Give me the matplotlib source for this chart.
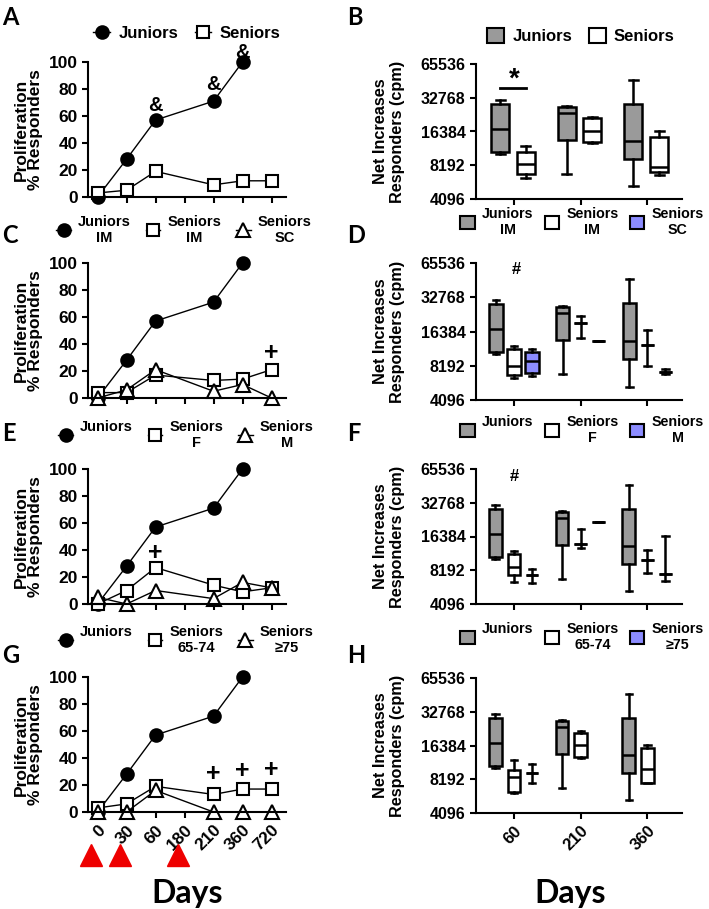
import matplotlib
matplotlib.use('Agg')
import matplotlib.pyplot as plt
from matplotlib.patches import Patch
from matplotlib.ticker import NullLocator

plt.rcParams['font.family'] = ['Liberation Sans', 'DejaVu Sans']
plt.rcParams['font.weight'] = 'bold'
plt.rcParams['axes.labelweight'] = 'bold'

# ---- data: proliferation (% responders) ----
days = ['0', '30', '60', '180', '210', '360', '720']
juniors_pct = [0, 28, 57, None, 71, 100, None]
seniors_pct = [3, 5, 19, None, 9, 12, 12]
seniors_im_pct = [4, 4, 17, None, 13, 14, 21]
seniors_sc_pct = [0, 6, 21, None, 5, 10, 0]
seniors_f_pct = [0, 10, 27, None, 14, 9, 12]
seniors_m_pct = [5, 0, 10, None, 4, 16, 12]
seniors_6574_pct = [3, 6, 19, None, 13, 17, 17]
seniors_75_pct = [0, 0, 16, None, 0, 0, 0]
vaccination_days = ['0', '30', '180']

# ---- data: net increases (cpm), per day: (whislo, q1, median, q3, whishi) ----
box_days = ['60', '210', '360']
juniors_cpm = [(10300, 10800, 17300, 28800, 31000),
               (6900, 13700, 23800, 27100, 27400),
               (5370, 9350, 13500, 29100, 47400)]
seniors_cpm = [(6260, 6900, 8450, 10700, 12200),
               (13000, 13200, 16700, 21600, 22200),
               (6660, 7100, 7900, 14700, 16600)]
seniors_im_cpm = [(6380, 6790, 8190, 11400, 12300),
                  (14300, 19300, 19300, 19300, 22200),
                  (8080, 12500, 12500, 12500, 16900)]
seniors_sc_cpm = [(6650, 7080, 9020, 10900, 11400),
                  (13400, 13400, 13400, 13400, 13400),
                  (6890, 7280, 7280, 7280, 7700)]
seniors_f_cpm = [(6430, 7380, 8840, 11500, 12200),
                 (13000, 14000, 14000, 14000, 19300),
                 (7800, 10200, 10200, 10200, 12300)]
seniors_m_cpm = [(6250, 7430, 7430, 7430, 8480),
                 (22100, 22100, 22100, 22100, 22100),
                 (6610, 7590, 7590, 7590, 16600)]
seniors_6574_cpm = [(6210, 6340, 8600, 9950, 12200),
                    (12800, 12900, 16600, 21300, 22100),
                    (7640, 7640, 10200, 15600, 16400)]
seniors_75_cpm = [(7640, 9410, 9410, 9410, 11200), None, None]
cpm_ticks = [4096, 8192, 16384, 32768, 65536]

GRAY = '#9a9a9a'
BLUE = '#8c8cff'

W, H = 709, 909
fig = plt.figure(figsize=(W / 100, H / 100), dpi=100)


def add_ax(x0, y0, x1, y1):
    return fig.add_axes([x0 / W, 1 - y1 / H, (x1 - x0) / W, (y1 - y0) / H])


def style(ax):
    for s in ['top', 'right']:
        ax.spines[s].set_visible(False)
    for s in ['left', 'bottom']:
        ax.spines[s].set_linewidth(1.5)
    ax.tick_params(direction='out', length=4, width=1.5)


def legend(ax, handles, labels, cx, cy, size, colsp=1.0):
    leg = ax.legend(handles, labels, loc='center', bbox_to_anchor=(cx / W, 1 - cy / H),
                    bbox_transform=fig.transFigure, ncol=len(handles), frameon=False,
                    handlelength=1.0, handleheight=1.0, handletextpad=0.5,
                    columnspacing=colsp, borderpad=0, borderaxespad=0,
                    prop={'size': size, 'weight': 'bold'})
    for t in leg.get_texts():
        t.set_multialignment('center')
    return leg


def line_panel(rect, series, labels, leg_xy, show_days):
    ax = add_ax(*rect)
    style(ax)
    handles = []
    for vals, marker, fc, ms in series:
        idx = [i for i, v in enumerate(vals) if v is not None]
        h, = ax.plot(idx, [vals[i] for i in idx], color='black', lw=1, marker=marker,
                     ms=ms, mfc=fc, mec='black', mew=1.5, clip_on=False)
        handles.append(h)
    ax.set_xlim(-0.33, 6.5)
    ax.set_ylim(0, 100)
    ax.set_yticks(range(0, 101, 20))
    ax.set_xticks(range(len(days)))
    if show_days:
        ax.set_xticklabels(days, rotation=45, ha='right', va='top', rotation_mode='anchor')
    else:
        ax.set_xticklabels([])
    ax.tick_params(labelsize=12.5)
    ax.set_ylabel('Proliferation\n% Responders', fontsize=12.5, linespacing=1.0)
    ax.yaxis.set_label_coords(-0.225, 0.5)
    legend(ax, handles, labels, leg_xy[0], leg_xy[1], 12 if len(labels) == 2 else 10.5)
    return ax


def box_panel(rect, series, labels, offsets, width, leg_xy, show_days):
    ax = add_ax(*rect)
    style(ax)
    handles = []
    for (stats_list, color), off in zip(series, offsets):
        stats, pos = [], []
        for g, s in enumerate(stats_list):
            if s is None:
                continue
            lo, q1, med, q3, hi = s
            stats.append(dict(whislo=lo, q1=q1, med=med, q3=q3, whishi=hi, fliers=[]))
            pos.append(g + off)
        ax.bxp(stats, positions=pos, widths=width, capwidths=width * 0.5,
               patch_artist=True, showfliers=False, manage_ticks=False,
               boxprops=dict(facecolor=color, edgecolor='black', linewidth=1.8),
               whiskerprops=dict(color='black', linewidth=1.8),
               capprops=dict(color='black', linewidth=1.8),
               medianprops=dict(color='black', linewidth=1.8))
        handles.append(Patch(facecolor=color, edgecolor='black', linewidth=1.5))
    ax.set_yscale('log', base=2)
    ax.set_ylim(4096, 65536)
    ax.set_yticks(cpm_ticks)
    ax.set_yticklabels([str(t) for t in cpm_ticks])
    ax.yaxis.set_minor_locator(NullLocator())
    ax.set_xlim(-0.57, 2.52)
    ax.set_xticks(range(len(box_days)))
    if show_days:
        ax.set_xticklabels(box_days, rotation=45, ha='right', va='top', rotation_mode='anchor')
    else:
        ax.set_xticklabels([])
    ax.tick_params(labelsize=11.5)
    ax.tick_params(axis='x', labelsize=12)
    ax.set_ylabel('Net Increases\nResponders (cpm)', fontsize=11.7)
    ax.yaxis.set_label_coords(-0.345, 0.5)
    if len(labels) == 2:
        legend(ax, handles, labels, leg_xy[0], leg_xy[1], 12)
    else:
        legend(ax, handles, labels, leg_xy[0], leg_xy[1], 10.3, colsp=0.8)
    return ax


LX = (88, 286)
RX = (476, 682)
rows = [(62, 197), (263, 398), (469, 604), (677, 812)]

# A
axA = line_panel((LX[0], rows[0][0], LX[1], rows[0][1]),
                 [(juniors_pct, 'o', 'black', 9), (seniors_pct, 's', 'white', 9)],
                 ['Juniors', 'Seniors'], (187, 33), False)
for d, y in [('60', 68), ('210', 83), ('360', 107)]:
    axA.text(days.index(d), y, '&', ha='center', va='center', fontsize=14.5, clip_on=False)

# C
axC = line_panel((LX[0], rows[1][0], LX[1], rows[1][1]),
                 [(juniors_pct, 'o', 'black', 9), (seniors_im_pct, 's', 'white', 9),
                  (seniors_sc_pct, '^', 'white', 10)],
                 ['Juniors\nIM', 'Seniors\nIM', 'Seniors\nSC'], (184, 230), False)
axC.text(days.index('720'), 33, '+', ha='center', va='center', fontsize=18, clip_on=False)

# E
axE = line_panel((LX[0], rows[2][0], LX[1], rows[2][1]),
                 [(juniors_pct, 'o', 'black', 9), (seniors_f_pct, 's', 'white', 9),
                  (seniors_m_pct, '^', 'white', 10)],
                 ['Juniors\n ', 'Seniors\nF', 'Seniors\nM'], (186, 435), False)
axE.text(days.index('60'), 38, '+', ha='center', va='center', fontsize=18, clip_on=False)

# G
axG = line_panel((LX[0], rows[3][0], LX[1], rows[3][1]),
                 [(juniors_pct, 'o', 'black', 9), (seniors_6574_pct, 's', 'white', 9),
                  (seniors_75_pct, '^', 'white', 10)],
                 ['Juniors\n ', 'Seniors\n65-74', 'Seniors\n\u226575'], (186, 640), True)
for d, y in [('210', 28), ('360', 30), ('720', 31)]:
    axG.text(days.index(d), y, '+', ha='center', va='center', fontsize=18, clip_on=False)
vx = [days.index(d) - 0.22 for d in vaccination_days]
axG.plot(vx, [-0.32] * len(vx), ls='none', marker='^', ms=16, color='#ee0000',
         transform=axG.get_xaxis_transform(), clip_on=False)

# B
axB = box_panel((RX[0], rows[0][0] + 2, RX[1], rows[0][1] + 2),
                [(juniors_cpm, GRAY), (seniors_cpm, 'white')],
                ['Juniors', 'Seniors'], [-0.21, 0.175], 0.27, (581, 36), False)
axB.plot([-0.21, 0.175], [40300, 40300], color='black', lw=2)
axB.text(0, 47500, '*', ha='center', va='center', fontsize=20)

# D
axD = box_panel((RX[0], rows[1][0], RX[1], rows[1][1] + 2),
                [(juniors_cpm, GRAY), (seniors_im_cpm, 'white'), (seniors_sc_cpm, BLUE)],
                ['Juniors\nIM', 'Seniors\nIM', 'Seniors\nSC'], [-0.27, 0, 0.27], 0.2,
                (582, 222), False)
axD.text(0.03, 57000, '#', ha='center', va='center', fontsize=12)

# F
axF = box_panel((RX[0], rows[2][0], RX[1], rows[2][1]),
                [(juniors_cpm, GRAY), (seniors_f_cpm, 'white'), (seniors_m_cpm, BLUE)],
                ['Juniors\n ', 'Seniors\nF', 'Seniors\nM'], [-0.28, 0, 0.27], 0.19,
                (582, 430), False)
axF.text(0.0, 56000, '#', ha='center', va='center', fontsize=12)

# H
axH = box_panel((RX[0], rows[3][0] + 1, RX[1], rows[3][1] + 1),
                [(juniors_cpm, GRAY), (seniors_6574_cpm, 'white'), (seniors_75_cpm, BLUE)],
                ['Juniors\n ', 'Seniors\n65-74', 'Seniors\n\u226575'], [-0.28, 0, 0.27], 0.19,
                (582, 637), True)

# panel letters and Days
for letter, x, y in [('A', 2, 6), ('B', 347, 6), ('C', 2, 224), ('D', 347, 224),
                     ('E', 2, 422), ('F', 347, 422), ('G', 2, 644), ('H', 347, 644)]:
    fig.text(x / W, 1 - y / H, letter, ha='left', va='top', fontsize=17,
             family=['Lato', 'DejaVu Sans'], weight='bold')
for x in [187, 570]:
    fig.text(x / W, 1 - 893 / H, 'Days', ha='center', va='center', fontsize=23,
             family=['Lato', 'DejaVu Sans'], weight='bold')

fig.savefig('out.png', dpi=100)
